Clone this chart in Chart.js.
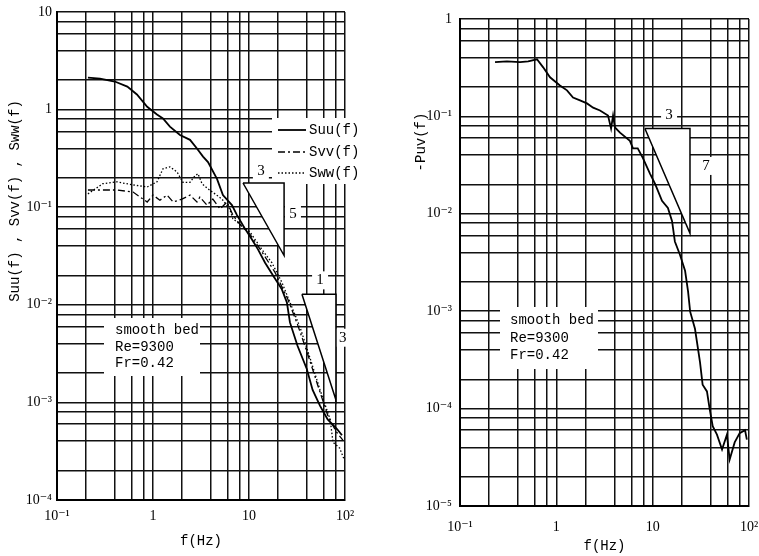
<!DOCTYPE html>
<html>
<head>
<meta charset="utf-8">
<script src="https://cdn.jsdelivr.net/npm/chart.js@4.4.0/dist/chart.umd.min.js"></script>
<style>
  body { margin: 0; background: #fff; }
  #wrap { position: relative; width: 759px; height: 556px; background: #fff; }
  canvas { position: absolute; top: 0; }
  #left { left: 0; }
  #right { left: 380px; }
</style>
</head>
<body>
<div id="wrap">
  <canvas id="left" width="380" height="556"></canvas>
  <canvas id="right" width="379" height="556"></canvas>
</div>
<script>
// frequency axis, both panels
const fTicks = [0.1, 1, 10, 100];
const fTickLabels = ['10⁻¹', '1', '10', '10²'];

// left panel: Suu, Svv, Sww
const sTicks = [0.0001, 0.001, 0.01, 0.1, 1, 10];
const sTickLabels = ['10⁻⁴', '10⁻³', '10⁻²', '10⁻¹', '1', '10'];

const suuF = [0.21, 0.28, 0.40, 0.54, 0.68, 0.87, 1.10, 1.27, 1.50, 1.91, 2.43, 2.87, 3.32, 3.74, 4.64, 5.35, 6.64, 7.5, 9.1, 10.7, 12.4, 14.7, 17.8, 22, 24.8, 26.7, 32, 40, 46, 55, 66, 83, 93];
const suuS = [2.13, 2.08, 1.94, 1.72, 1.43, 1.07, 0.89, 0.81, 0.67, 0.55, 0.49, 0.40, 0.33, 0.29, 0.195, 0.133, 0.105, 0.083, 0.060, 0.047, 0.037, 0.027, 0.020, 0.0144, 0.0106, 0.0066, 0.0038, 0.0022, 0.00134, 0.00092, 0.00067, 0.00053, 0.00046];

const svvF = [0.21, 0.42, 0.62, 0.87, 1.0, 1.18, 1.40, 1.62, 2.0, 2.43, 2.87, 3.08, 3.65, 4.2, 5.0, 5.9, 6.8, 8.0, 10.2, 13.6, 18.6, 25.4, 32, 41, 52, 66, 80, 95];
const svvS = [0.15, 0.15, 0.143, 0.113, 0.133, 0.118, 0.133, 0.113, 0.121, 0.133, 0.113, 0.127, 0.105, 0.121, 0.096, 0.113, 0.083, 0.067, 0.053, 0.035, 0.0216, 0.0114, 0.0063, 0.0031, 0.0015, 0.00074, 0.00051, 0.00041];

const swwF = [0.21, 0.30, 0.42, 0.62, 0.87, 1.10, 1.27, 1.50, 1.78, 2.05, 2.43, 2.74, 2.94, 3.24, 3.74, 4.42, 5.23, 6.3, 6.8, 10.2, 13.6, 17.3, 22, 26.7, 34, 43, 55, 70, 75, 88, 98];
const swwS = [0.137, 0.174, 0.182, 0.169, 0.161, 0.182, 0.247, 0.259, 0.23, 0.18, 0.18, 0.21, 0.22, 0.174, 0.154, 0.137, 0.121, 0.096, 0.076, 0.056, 0.037, 0.027, 0.017, 0.0106, 0.0059, 0.0029, 0.00134, 0.00067, 0.00039, 0.00034, 0.00026];

// slope triangles (-5/3 and -3)
const tri53F = [8.66, 23.2, 23.2, 8.66];
const tri53S = [0.177, 0.177, 0.032, 0.177];
const tri3F = [35.6, 80.5, 80.5, 35.6];
const tri3S = [0.0128, 0.0128, 0.00106, 0.0128];

// right panel: -Puv
const pTicks = [0.00001, 0.0001, 0.001, 0.01, 0.1, 1];
const pTickLabels = ['10⁻⁵', '10⁻⁴', '10⁻³', '10⁻²', '10⁻¹', '1'];

const puvF = [0.231, 0.307, 0.42, 0.51, 0.63, 0.73, 0.86, 1.09, 1.29, 1.49, 1.76, 2.08, 2.41, 2.84, 3.44, 3.7, 3.88, 4.06, 4.58, 5.8, 6.25, 7.0, 7.9, 9.4, 10.6, 12.5, 14.4, 15.9, 17.0, 19.2, 21.7, 23.3, 24.5, 27.5, 31, 33, 36.6, 39, 42, 46.5, 52.5, 59, 63, 71, 80, 91, 95];
const puvP = [0.36, 0.368, 0.36, 0.368, 0.386, 0.319, 0.252, 0.208, 0.185, 0.156, 0.146, 0.136, 0.123, 0.115, 0.102, 0.075, 0.102, 0.077, 0.068, 0.056, 0.047, 0.047, 0.0376, 0.0257, 0.0203, 0.0136, 0.0115, 0.0084, 0.0052, 0.0038, 0.0026, 0.0016, 0.00099, 0.00066, 0.0003, 0.000176, 0.00015, 0.0001, 0.000066, 0.000054, 0.000038, 0.000054, 0.00003, 0.000045, 0.000056, 0.00006, 0.000048];

// slope triangle (-7/3)
const tri73F = [8.3, 24.4, 24.4, 8.3];
const tri73P = [0.075, 0.075, 0.0063, 0.075];

// the log paper is ruled at 1, 2, 4, 6, 8 of each decade
const paperSteps = [1, 2, 4, 6, 8];

const MONO = '"Liberation Mono", "DejaVu Sans Mono", monospace';
const SERIF = '"Liberation Serif", "DejaVu Serif", serif';

function pts(xs, ys) {
  return xs.map((x, i) => ({ x: x, y: ys[i] }));
}

function logGrid(majors) {
  const out = [];
  for (let i = 0; i < majors.length - 1; i++) {
    paperSteps.forEach(k => out.push(majors[i] * k));
  }
  out.push(majors[majors.length - 1]);
  return out;
}

function labelFor(majors, labels) {
  return v => {
    const j = majors.findIndex(m => Math.abs(Math.log10(m) - Math.log10(v)) < 1e-6);
    return j >= 0 ? labels[j] : '';
  };
}

function logAxis(majors, labels, fitSize, horizontal, pad, extra) {
  const grid = logGrid(majors);
  return Object.assign({
    type: 'logarithmic',
    min: majors[0],
    max: majors[majors.length - 1],
    afterBuildTicks: s => { s.ticks = grid.map(v => ({ value: v })); },
    afterFit: s => {
      if (horizontal) { s.height = fitSize; s.paddingLeft = 0; s.paddingRight = 0; }
      else { s.width = fitSize; s.paddingTop = 0; s.paddingBottom = 0; }
    },
    grid: { color: '#111', lineWidth: 1.5, drawTicks: false },
    border: { color: '#000', width: 2 },
    ticks: {
      autoSkip: false, maxRotation: 0, color: '#000', padding: pad,
      font: { family: SERIF, size: 14 },
      callback: labelFor(majors, labels)
    }
  }, extra || {});
}

function curve(data, width, dash) {
  return { data: data, borderColor: '#000', borderWidth: width, borderDash: dash || [], pointRadius: 0, fill: false, tension: 0 };
}

function triangle(data) {
  return { data: data, borderColor: '#000', borderWidth: 1.5, pointRadius: 0, fill: 'shape', backgroundColor: '#fff', tension: 0 };
}

// white patches, notes, slope numbers, legend, y title
function decor(cfg) {
  return {
    id: 'decor',
    beforeDatasetsDraw(chart) {
      const ctx = chart.ctx;
      const xs = chart.scales.x, ys = chart.scales.y;
      ctx.save();
      ctx.fillStyle = '#fff';
      cfg.boxes.forEach(b => ctx.fillRect(b[0], b[1], b[2], b[3]));
      cfg.slopes.forEach(s => {
        const px = xs.getPixelForValue(s.f), py = ys.getPixelForValue(s.v);
        ctx.fillRect(px - 8, py - 9, 16, 18);
      });
      ctx.restore();
    },
    afterDraw(chart) {
      const ctx = chart.ctx;
      const xs = chart.scales.x, ys = chart.scales.y;
      ctx.save();
      ctx.fillStyle = '#000';
      ctx.textBaseline = 'middle';
      ctx.font = '14px ' + MONO;
      ctx.textAlign = 'left';
      cfg.notes.forEach(n => ctx.fillText(n[0], n[1], n[2]));
      ctx.font = '15px ' + SERIF;
      ctx.textAlign = 'center';
      cfg.slopes.forEach(s => ctx.fillText(s.t, xs.getPixelForValue(s.f), ys.getPixelForValue(s.v)));
      if (cfg.legend) {
        ctx.font = '14px ' + MONO;
        ctx.textAlign = 'left';
        cfg.legend.forEach(l => {
          ctx.strokeStyle = '#000';
          ctx.lineWidth = l.w;
          ctx.setLineDash(l.dash);
          ctx.beginPath();
          ctx.moveTo(l.x0, l.y);
          ctx.lineTo(l.x1, l.y);
          ctx.stroke();
          ctx.setLineDash([]);
          ctx.fillText(l.t, l.x1 + 3, l.y);
        });
      }
      ctx.translate(cfg.yTitle[1], cfg.yTitle[2]);
      ctx.rotate(-Math.PI / 2);
      ctx.textAlign = 'center';
      ctx.font = '14px ' + MONO;
      ctx.fillText(cfg.yTitle[0], 0, 0);
      ctx.restore();
    }
  };
}

const common = {
  responsive: false,
  animation: false,
  plugins: { legend: { display: false }, tooltip: { enabled: false } }
};

new Chart(document.getElementById('left'), {
  type: 'line',
  data: {
    datasets: [
      curve(pts(suuF, suuS), 1.8),
      curve(pts(svvF, svvS), 1.3, [7, 3, 2, 3]),
      curve(pts(swwF, swwS), 1.3, [1.5, 2]),
      triangle(pts(tri53F, tri53S)),
      triangle(pts(tri3F, tri3S))
    ]
  },
  options: Object.assign({}, common, {
    layout: { padding: { left: 0, right: 35, top: 12, bottom: 0 } },
    scales: {
      x: logAxis(fTicks, fTickLabels, 56, true, 8, {
        title: { display: true, text: 'f(Hz)', font: { family: MONO, size: 14 }, color: '#000', padding: { top: 0, bottom: 6 } }
      }),
      y: logAxis(sTicks, sTickLabels, 57, false, 5)
    }
  }),
  plugins: [decor({
    boxes: [[104, 318, 96, 58], [272, 118, 92, 66]],
    notes: [['smooth bed', 115, 330], ['Re=9300', 115, 347], ['Fr=0.42', 115, 363]],
    slopes: [{ t: '3', f: 13.3, v: 0.236 }, { t: '5', f: 28.7, v: 0.085 }, { t: '1', f: 55, v: 0.0178 }, { t: '3', f: 95, v: 0.0046 }],
    legend: [
      { t: 'Suu(f)', x0: 278, x1: 306, y: 130, w: 1.8, dash: [] },
      { t: 'Svv(f)', x0: 278, x1: 306, y: 152, w: 1.3, dash: [7, 3, 2, 3] },
      { t: 'Sww(f)', x0: 278, x1: 306, y: 173, w: 1.3, dash: [1.5, 2] }
    ],
    yTitle: ['Suu(f) , Svv(f) , Sww(f)', 15, 201]
  })]
});

new Chart(document.getElementById('right'), {
  type: 'line',
  data: {
    datasets: [
      curve(pts(puvF, puvP), 1.8),
      triangle(pts(tri73F, tri73P))
    ]
  },
  options: Object.assign({}, common, {
    layout: { padding: { left: 0, right: 10, top: 19, bottom: 0 } },
    scales: {
      x: logAxis(fTicks, fTickLabels, 50, true, 13, {
        title: { display: true, text: 'f(Hz)', font: { family: MONO, size: 14 }, color: '#000', padding: { top: 0, bottom: 1 } }
      }),
      y: logAxis(pTicks, pTickLabels, 80, false, 8)
    }
  }),
  plugins: [decor({
    boxes: [[120, 307, 98, 62]],
    notes: [['smooth bed', 130, 320], ['Re=9300', 130, 338], ['Fr=0.42', 130, 355]],
    slopes: [{ t: '3', f: 14.8, v: 0.102 }, { t: '7', f: 35.7, v: 0.031 }],
    yTitle: ['-Puv(f)', 41, 142]
  })]
});
</script>
</body>
</html>
